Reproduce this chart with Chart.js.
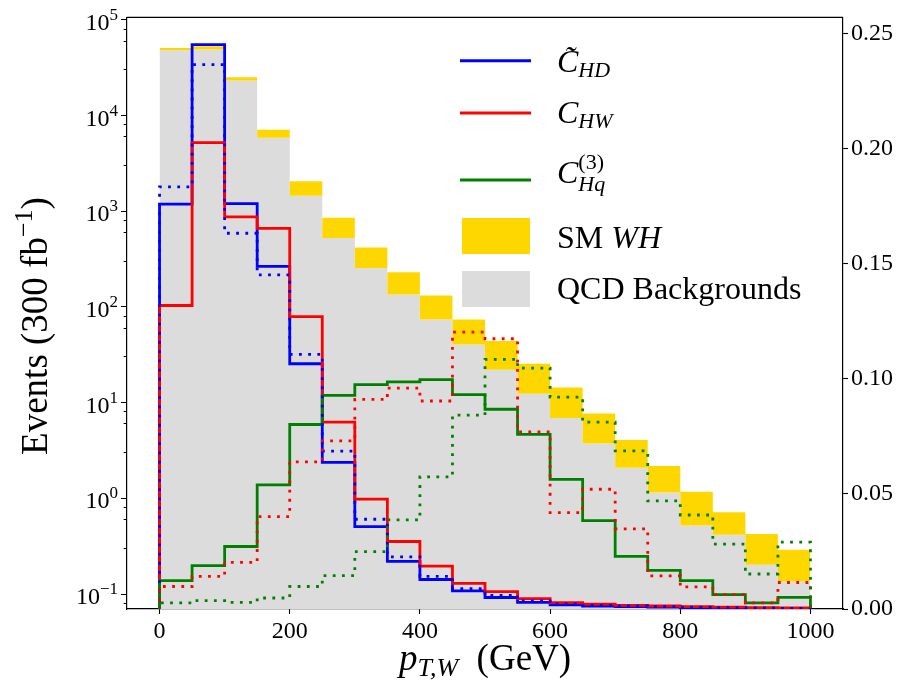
<!DOCTYPE html>
<html>
<head>
<meta charset="utf-8">
<script src="https://cdn.jsdelivr.net/npm/chart.js@4.4.0/dist/chart.umd.min.js"></script>
<style>
  body { margin: 0; background: #fff; }
  #wrap { width: 899px; height: 688px; position: relative; }
</style>
</head>
<body>
<div id="wrap"><canvas id="myChart"></canvas></div>
<script>
// bin edges in GeV (20 bins of 50 GeV)
var binEdges = [0, 50, 100, 150, 200, 250, 300, 350, 400, 450, 500,
                550, 600, 650, 700, 750, 800, 850, 900, 950, 1000];

// stacked backgrounds
var qcdBkg = [48000, 49000, 23200, 5870, 1450, 525, 255, 135, 74, 40.5,
              22.1, 12.4, 6.9, 3.75, 2.09, 1.15, 0.52, 0.416, 0.202, 0.135];
var smWH = [2700, 4000, 1900, 1230, 610, 328, 164, 95, 57.5, 33.5,
            21.9, 13.1, 7.5, 3.95, 1.97, 1.03, 0.65, 0.30, 0.221, 0.155];

// operator distributions: solid and dotted variants
var cHDsolid = [1187, 55000, 1200, 265, 25.5, 2.38, 0.507, 0.219, 0.142, 0.108,
                0.092, 0.082, 0.077, 0.0748, 0.074, 0.073, 0.0717, 0.0717, 0.071, 0.0702];
var cHDdotted = [1800, 34000, 589, 216, 31.9, 3.12, 0.605, 0.245, 0.153, 0.114,
                 0.097, 0.085, 0.079, 0.076, 0.075, 0.074, 0.073, 0.072, 0.0715, 0.071];
var cHWsolid = [103.5, 5200, 875, 661, 79.4, 6.25, 0.98, 0.354, 0.196, 0.129,
                0.106, 0.0896, 0.0813, 0.0785, 0.076, 0.075, 0.074, 0.073, 0.072, 0.0715];
var cHWdotted = [0.120, 0.153, 0.214, 0.645, 2.41, 3.99, 10.8, 14.2, 10.4, 54.5,
                 46.5, 4.96, 0.71, 1.245, 0.48, 0.155, 0.119, 0.0986, 0.081, 0.132];
var cHqSolid = [0.138, 0.198, 0.314, 1.38, 5.91, 11.9, 15.4, 16.5, 17.4, 12.1,
                8.53, 4.66, 1.58, 0.586, 0.247, 0.177, 0.138, 0.0986, 0.081, 0.0925];
var cHqDotted = [0.081, 0.0853, 0.082, 0.091, 0.120, 0.156, 0.277, 0.596, 1.68, 7.39,
                 28.3, 23.0, 11.4, 6.25, 3.14, 0.94, 0.67, 0.333, 0.162, 0.349];

// axes
var xTicks = [0, 200, 400, 600, 800, 1000];
var yExponents = [-1, 0, 1, 2, 3, 4, 5];
var rightTicks = [0, 0.05, 0.10, 0.15, 0.20, 0.25];

var FONT = '"Liberation Serif", "DejaVu Serif", serif';
var floorVal = 1e-3;

// turn bin contents into a closed step outline (like histtype='step')
function steps(vals) {
  var pts = [{x: binEdges[0], y: floorVal}];
  for (var i = 0; i < vals.length; i++) {
    pts.push({x: binEdges[i], y: vals[i]});
    pts.push({x: binEdges[i + 1], y: vals[i]});
  }
  pts.push({x: binEdges[binEdges.length - 1], y: floorVal});
  return pts;
}

function stepLine(label, vals, color, dotted) {
  return {
    label: label,
    data: steps(vals),
    yAxisID: 'y',
    borderColor: color,
    borderWidth: 2.8,
    borderDash: dotted ? [2.8, 6.4] : [],
    borderCapStyle: 'butt',
    borderJoinStyle: 'miter',
    pointRadius: 0,
    tension: 0,
    fill: false
  };
}

var whTotal = qcdBkg.map(function (v, i) { return v + smWH[i]; });

var minorTicks = [];
yExponents.concat([-2]).forEach(function (e) {
  for (var m = 1; m <= 9; m++) minorTicks.push({value: m * Math.pow(10, e), major: m === 1});
});

// legend, axis titles, log tick labels, top spine
var decorations = {
  id: 'decorations',
  afterDraw: function (chart) {
    var c = chart.ctx;
    var area = chart.chartArea;
    var ys = chart.scales.y;
    c.save();
    c.fillStyle = '#000';
    c.textBaseline = 'alphabetic';

    // top spine
    c.strokeStyle = '#000';
    c.lineWidth = 1.2;
    c.beginPath();
    c.moveTo(area.left, area.top);
    c.lineTo(area.right, area.top);
    c.stroke();

    function font(size, it) { return (it ? 'italic ' : '') + size + 'px ' + FONT; }
    function richWidth(parts, base) {
      var w = 0;
      parts.forEach(function (p) {
        c.font = font(Math.round(base * (p.s || 1)), p.it);
        if (!p.stay) w += c.measureText(p.t).width;
      });
      return w;
    }
    function drawRich(x, y, parts, base) {
      parts.forEach(function (p) {
        c.font = font(Math.round(base * (p.s || 1)), p.it);
        c.fillText(p.t, x, y + (p.dy || 0));
        if (!p.stay) x += c.measureText(p.t).width;
      });
    }

    // log tick labels 10^n
    c.textAlign = 'left';
    yExponents.forEach(function (e) {
      var py = ys.getPixelForValue(Math.pow(10, e));
      var ex = e < 0 ? '\u2212' + (-e) : String(e);
      var parts = [{t: '10'}, {t: ex, s: 0.7, dy: -10}];
      var w = richWidth(parts, 24);
      drawRich(118 - w, py + 10, parts, 24);
    });

    // y axis title (rotated)
    var yParts = [{t: 'Events (300 fb'}, {t: '\u22121', s: 0.7, dy: -15}, {t: ')'}];
    c.save();
    c.translate(47, 326);
    c.rotate(-Math.PI / 2);
    var yw = richWidth(yParts, 37);
    drawRich(-yw / 2, 0, yParts, 37);
    c.restore();

    // x axis title
    var xParts = [{t: 'p', it: 1}, {t: 'T,W', it: 1, s: 0.7, dy: 6}, {t: '  (GeV)'}];
    var xw = richWidth(xParts, 37);
    drawRich((area.left + area.right) / 2 - xw / 2, 670, xParts, 37);

    // legend handles
    var lx0 = 460, lx1 = 531;
    [['#0000ff', 60.7], ['#ff0000', 113], ['#008000', 180]].forEach(function (h) {
      c.strokeStyle = h[0];
      c.lineWidth = 3;
      c.beginPath();
      c.moveTo(lx0, h[1]);
      c.lineTo(lx1, h[1]);
      c.stroke();
    });
    c.fillStyle = '#FFD700';
    c.fillRect(462, 218, 68, 36);
    c.fillStyle = '#DCDCDC';
    c.fillRect(462, 271, 68, 36);

    // legend labels
    c.fillStyle = '#000';
    var tx = 557, F = 32;
    drawRich(tx, 71.7, [{t: 'C', it: 1}, {t: 'HD', it: 1, s: 0.7, dy: 5}], F);
    c.font = font(F, 1);
    c.fillText('\u02DC', tx + 7, 71.7 - 4);
    drawRich(tx, 123.3, [{t: 'C', it: 1}, {t: 'HW', it: 1, s: 0.7, dy: 5}], F);
    drawRich(tx, 183.3, [{t: 'C', it: 1}, {t: '(3)', s: 0.7, dy: -14, stay: 1}, {t: 'Hq', it: 1, s: 0.7, dy: 8}], F);
    drawRich(tx, 248.3, [{t: 'SM '}, {t: 'WH', it: 1}], F);
    drawRich(tx, 299.3, [{t: 'QCD Backgrounds'}], F);
    c.restore();
  }
};

var ctx = document.getElementById('myChart').getContext('2d');
var chart = new Chart(ctx, {
  type: 'line',
  data: {
    datasets: [
      stepLine('C_Hq(3) dotted', cHqDotted, '#008000', true),
      stepLine('C_HW dotted', cHWdotted, '#ff0000', true),
      stepLine('C_HD dotted', cHDdotted, '#0000ff', true),
      stepLine('C_Hq(3)', cHqSolid, '#008000', false),
      stepLine('C_HW', cHWsolid, '#ff0000', false),
      stepLine('C_HD', cHDsolid, '#0000ff', false),
      {
        label: 'SM WH',
        data: steps(whTotal),
        yAxisID: 'y',
        borderWidth: 0,
        pointRadius: 0,
        backgroundColor: '#FFD700',
        fill: '+1'
      },
      {
        label: 'QCD Backgrounds',
        data: steps(qcdBkg),
        yAxisID: 'y',
        borderWidth: 0,
        pointRadius: 0,
        backgroundColor: '#DCDCDC',
        fill: 'start'
      }
    ]
  },
  options: {
    responsive: true,
    maintainAspectRatio: false,
    animation: false,
    devicePixelRatio: 1,
    layout: { padding: { top: 16, left: 0, right: 0, bottom: 0 } },
    plugins: {
      legend: { display: false },
      tooltip: { enabled: false }
    },
    scales: {
      x: {
        type: 'linear',
        min: -50,
        max: 1050,
        afterBuildTicks: function (s) { s.ticks = xTicks.map(function (v) { return {value: v}; }); },
        afterFit: function (s) { s.height = 79; },
        ticks: {
          font: { family: FONT, size: 24 }, color: '#000', padding: 3, maxRotation: 0,
          callback: function (v) { return String(v); }
        },
        grid: { drawOnChartArea: false, drawTicks: true, tickLength: 5, tickColor: '#000', tickWidth: 1.1 },
        border: { display: true, color: '#000', width: 1.2 }
      },
      y: {
        type: 'logarithmic',
        position: 'left',
        min: 0.0698,
        max: 106000,
        afterBuildTicks: function (s) {
          s.ticks = minorTicks.filter(function (t) { return t.value >= s.min && t.value <= s.max; })
            .map(function (t) { return {value: t.value, major: t.major}; });
        },
        afterFit: function (s) { s.width = 127; },
        ticks: { callback: function () { return ''; } },
        grid: {
          drawOnChartArea: false, drawTicks: true, tickLength: 6, tickColor: '#000', tickWidth: 1,
          tickBorderDash: function (c) {
            var v = c.tick ? c.tick.value : 1;
            var r = v / Math.pow(10, Math.floor(Math.log10(v) + 1e-9));
            return Math.abs(r - 1) < 1e-6 ? [] : [0, 2.6, 3.4, 40];
          }
        },
        border: { display: true, color: '#000', width: 1.2 }
      },
      y2: {
        type: 'linear',
        position: 'right',
        display: true,
        min: 0,
        max: 0.257,
        afterBuildTicks: function (s) { s.ticks = rightTicks.map(function (v) { return {value: v}; }); },
        afterFit: function (s) { s.width = 56; },
        ticks: {
          font: { family: FONT, size: 24 }, color: '#000', padding: 3,
          callback: function (v) { return Number(v).toFixed(2); }
        },
        grid: { drawOnChartArea: false, drawTicks: true, tickLength: 5, tickColor: '#000', tickWidth: 1.1 },
        border: { display: true, color: '#000', width: 1.2 }
      }
    }
  },
  plugins: [decorations]
});
</script>
</body>
</html>
